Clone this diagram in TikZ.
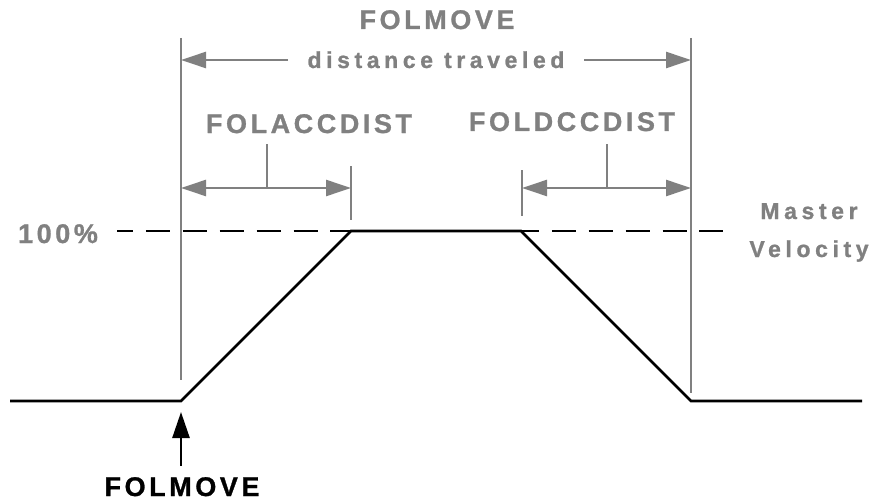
\documentclass[tikz,border=0pt]{standalone}
\usepackage{fontspec}
\usetikzlibrary{arrows.meta}
\newfontfamily\capfont{Liberation Sans Bold}[LetterSpace=13.2,FakeBold=1]
\newfontfamily\lowfont{Liberation Sans Bold}[LetterSpace=20,FakeBold=1]
\definecolor{dimgr}{HTML}{808080}
\tikzset{
  capl/.style={font=\capfont\fontsize{27}{30}\selectfont, inner sep=0pt, anchor=base},
  lowl/.style={font=\lowfont\fontsize{23}{26}\selectfont, inner sep=0pt, anchor=base},
  grl/.style={draw=dimgr, line width=2.5pt},
  gtip/.style={-{Triangle[length=25pt,width=16pt]}, draw=dimgr, fill=dimgr, line width=2.5pt},
  gtips/.style={{Triangle[length=25pt,width=16pt]}-{Triangle[length=25pt,width=16pt]}, draw=dimgr, line width=2.5pt},
  prof/.style={draw=black, line width=2.6pt, line join=miter},
}
\begin{document}
\begin{tikzpicture}[x=1pt,y=-1pt]
\useasboundingbox (0,0) rectangle (883,500);
% coordinates
\coordinate (vlt) at (181,38);
\coordinate (vlb) at (181,380);
\coordinate (vrt) at (691,38);
\coordinate (vrb) at (691,393);
\coordinate (dl) at (181,60);
\coordinate (dr) at (691,60);
\coordinate (dls) at (288,60);
\coordinate (drs) at (584,60);
\coordinate (al) at (181,188);
\coordinate (ar) at (351,188);
\coordinate (atk) at (267,144);
\coordinate (atb) at (267,188);
\coordinate (avt) at (351,166);
\coordinate (avb) at (351,220);
\coordinate (bl) at (522,188);
\coordinate (br) at (691,188);
\coordinate (btk) at (607,144);
\coordinate (btb) at (607,188);
\coordinate (bvt) at (522,170);
\coordinate (bvb) at (522,216);
\coordinate (dsh0) at (117,231);
\coordinate (dsh1) at (731,231);
\coordinate (p0) at (10,401);
\coordinate (p1) at (181,401);
\coordinate (p2) at (351,231);
\coordinate (p3) at (521,231);
\coordinate (p4) at (691,401);
\coordinate (p5) at (862,401);
\coordinate (ktail) at (181,466);
\coordinate (ktip) at (181,412);
% labels
\node[capl, text=dimgr] (tfol) at (437,29) {FOLMOVE};
\node[lowl, text=dimgr] (dist) at (436,68) {distance traveled};
\node[capl, text=dimgr] (acc) at (309,133) {FOLACCDIST};
\node[capl, text=dimgr] (dcc) at (572,131) {FOLDCCDIST};
\node[capl, text=dimgr] (pct) at (58,243) {100\%};
\node[lowl, text=dimgr] (mas) at (809,219) {Master};
\node[lowl, text=dimgr] (vel) at (809,257) {Velocity};
\node[capl, text=black] (bfol) at (182,496) {FOLMOVE};
% dashed master velocity
\draw[draw=black, line width=2.6pt, dash pattern=on 24pt off 12.9pt, dash phase=8pt] (dsh0) -- (dsh1);
% gray verticals
\draw[grl] (vlt) -- (vlb);
\draw[grl] (vrt) -- (vrb);
\draw[grl] (avt) -- (avb);
\draw[grl] (bvt) -- (bvb);
\draw[grl] (atk) -- (atb);
\draw[grl] (btk) -- (btb);
% dimension arrows
\draw[gtip] (dls) -- (dl);
\draw[gtip] (drs) -- (dr);
\draw[gtips, fill=dimgr] (al) -- (ar);
\draw[gtips, fill=dimgr] (bl) -- (br);
% profile
\draw[prof] (p0) -- (p1) -- (p2) -- (p3) -- (p4) -- (p5);
% start arrow
\draw[-{Triangle[length=26pt,width=17pt]}, draw=black, fill=black, line width=2.6pt] (ktail) -- (ktip);
\end{tikzpicture}
\end{document}
